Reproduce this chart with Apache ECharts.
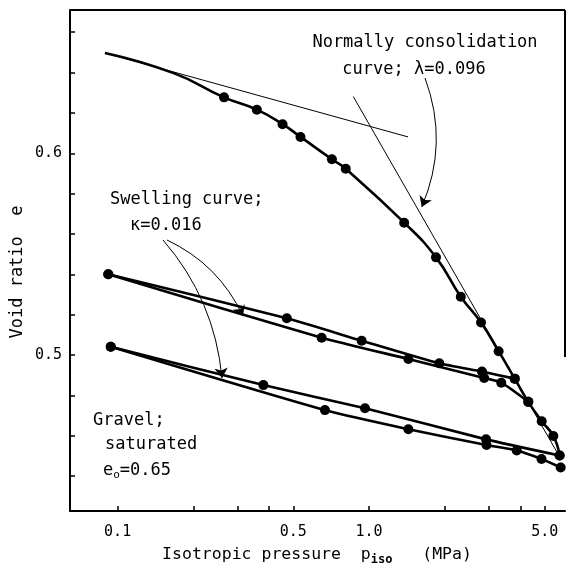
<!DOCTYPE html>
<html><head><meta charset="utf-8">
<script src="https://cdn.jsdelivr.net/npm/echarts@6/dist/echarts.min.js"></script>
<style>html,body{margin:0;padding:0;background:#fff}#c{width:570px;height:565px}</style>
</head><body><div id="c"></div>
<script>
// ---- axis ticks / labels ----
const xTickValues = [0.1, 0.2, 0.3, 0.4, 0.5, 1, 2, 3, 4, 5];
const xLabelValues = [0.1, 0.5, 1, 5];
const yTickValues = [0.44, 0.46, 0.48, 0.50, 0.52, 0.54, 0.56, 0.58, 0.60, 0.62, 0.64, 0.66];
const yLabelValues = [0.5, 0.6];

// ---- normally consolidation curve ----
const ncLead = [[0.089, 0.6497], [0.167, 0.6397]];          // drawn curve, no measured points
const ncPoints = [[0.265, 0.6277], [0.358, 0.6216], [0.453, 0.6144], [0.534, 0.6081],
  [0.712, 0.5970], [0.808, 0.5923], [1.380, 0.5656], [1.847, 0.5484], [2.318, 0.5289],
  [2.790, 0.5161], [3.278, 0.5019], [3.799, 0.4883], [4.302, 0.4768], [4.864, 0.4672],
  [5.409, 0.4599], [5.731, 0.4502]];

// ---- swelling loops ----
const unload1 = [[3.799, 0.4883], [2.815, 0.4918], [1.904, 0.4959], [0.935, 0.5071], [0.471, 0.5182], [0.0918, 0.5400]];
const reload1 = [[0.0918, 0.5400], [0.648, 0.5086], [1.434, 0.4980], [2.872, 0.4886], [3.359, 0.4863], [4.302, 0.4768]];
const unload2 = [[5.731, 0.4502], [2.921, 0.4582], [0.964, 0.4736], [0.380, 0.4851], [0.0939, 0.5041]];
const reload2 = [[0.0939, 0.5041], [0.668, 0.4727], [1.434, 0.4632], [2.934, 0.4554], [3.869, 0.4527], [4.855, 0.4485], [5.788, 0.4443]];

// ---- straight reference lines ----
const kappaLine = [[0.0891, 0.6497], [1.430, 0.6081]];
const lambdaLine = [[0.866, 0.6281], [5.70, 0.4501]];

// ---- annotation arrows (start, end) ----
const arrowLambda = [[1.670, 0.6373], [1.621, 0.5734]];
const arrowKappaA = [[0.1572, 0.5570], [0.3153, 0.5193]];
const arrowKappaB = [[0.1516, 0.5570], [0.2602, 0.4886]];

const X_MIN = 0.06465, X_MAX = 6.021, Y_MIN = 0.4227, Y_MAX = 0.6710;
const FONT = '"DejaVu Sans Mono", "Liberation Mono", monospace';

const chart = echarts.init(document.getElementById('c'), null, {renderer: 'canvas'});

const thick = {color: '#000', width: 2.6};
const thin = {color: '#000', width: 1};
const mk = (d) => d.map(v => ({value: v}));

const series = [
  {type: 'line', name: 'nc', smooth: 0.5, symbol: 'circle', symbolSize: 10,
   itemStyle: {color: '#000'}, lineStyle: thick,
   data: ncLead.map(v => ({value: v, symbol: 'none'})).concat(mk(ncPoints))},
  {type: 'line', smooth: 0.2, symbol: 'circle', symbolSize: 10, itemStyle: {color: '#000'}, lineStyle: thick, data: unload1},
  {type: 'line', smooth: 0.2, symbol: 'circle', symbolSize: 10, itemStyle: {color: '#000'}, lineStyle: thick, data: reload1},
  {type: 'line', smooth: 0.2, symbol: 'circle', symbolSize: 10, itemStyle: {color: '#000'}, lineStyle: thick, data: unload2},
  {type: 'line', smooth: 0.2, symbol: 'circle', symbolSize: 10, itemStyle: {color: '#000'}, lineStyle: thick, data: reload2},
  {type: 'line', symbol: 'none', lineStyle: thin, data: kappaLine},
  {type: 'line', symbol: 'none', lineStyle: thin, data: lambdaLine},
  {type: 'lines', coordinateSystem: 'cartesian2d', symbol: ['none', 'arrow'], symbolSize: 10,
   lineStyle: {color: '#000', width: 1, opacity: 1}, itemStyle: {color: '#000'},
   data: [
     {coords: arrowLambda, lineStyle: {curveness: 0.2}},
     {coords: arrowKappaA, lineStyle: {curveness: 0.18}},
     {coords: arrowKappaB, lineStyle: {curveness: 0.16}}
   ]}
];

chart.setOption({
  animation: false,
  backgroundColor: '#fff',
  grid: {left: 70, right: 5, top: 10, bottom: 54, show: false},
  xAxis: {
    type: 'log', logBase: 10, min: X_MIN, max: X_MAX,
    axisLine: {show: true, lineStyle: {color: '#000', width: 2}},
    axisTick: {show: true, inside: true, length: 5, customValues: xTickValues, lineStyle: {color: '#000', width: 1.5}},
    axisLabel: {show: true, customValues: xLabelValues, margin: 14, color: '#000',
      fontFamily: FONT, fontSize: 15, formatter: v => Number(v).toFixed(1)},
    splitLine: {show: false}, minorTick: {show: false}
  },
  yAxis: {
    type: 'value', min: Y_MIN, max: Y_MAX,
    axisLine: {show: true, lineStyle: {color: '#000', width: 2}},
    axisTick: {show: true, inside: true, length: 5, customValues: yTickValues, lineStyle: {color: '#000', width: 1.5}},
    axisLabel: {show: true, customValues: yLabelValues, margin: 8, color: '#000',
      fontFamily: FONT, fontSize: 15, formatter: v => Number(v).toFixed(1)},
    splitLine: {show: false}
  },
  series: series
});

const tl = chart.convertToPixel({gridIndex: 0}, [X_MIN, Y_MAX]);
const tr = chart.convertToPixel({gridIndex: 0}, [X_MAX, Y_MAX]);
const rb = chart.convertToPixel({gridIndex: 0}, [X_MAX, 0.499]);

const txt = (x, y, text, extra) => Object.assign({
  type: 'text', x: x, y: y,
  style: Object.assign({text: text, fill: '#000', font: '17px ' + FONT, textAlign: 'left', textVerticalAlign: 'middle'}, extra || {})
});

chart.setOption({
  graphic: [
    {type: 'line', shape: {x1: tl[0], y1: tl[1], x2: tr[0], y2: tr[1]}, style: {stroke: '#000', lineWidth: 2}},
    {type: 'line', shape: {x1: tr[0], y1: tr[1], x2: rb[0], y2: rb[1]}, style: {stroke: '#000', lineWidth: 2}},
    txt(425, 43, 'Normally consolidation', {textAlign: 'center'}),
    txt(414, 70, 'curve; λ=0.096', {textAlign: 'center'}),
    txt(110, 200, 'Swelling curve;'),
    txt(130, 226, 'κ=0.016'),
    txt(93, 421, 'Gravel;'),
    txt(105, 445, 'saturated'),
    {type: 'text', x: 103, y: 471, style: {
      text: '{a|e}{s|o}{a|=0.65}', fill: '#000', textAlign: 'left', textVerticalAlign: 'middle',
      rich: {a: {font: '17px ' + FONT, fill: '#000'}, s: {font: '11px ' + FONT, fill: '#000', padding: [9, 0, 0, 0]}}
    }},
    {type: 'text', x: 18, y: 272, rotation: Math.PI / 2, style: {
      text: 'Void ratio  e', fill: '#000', font: '17px ' + FONT, textAlign: 'center', textVerticalAlign: 'middle'}},
    {type: 'text', x: 317, y: 555, style: {
      text: '{a|Isotropic pressure  }{a|p}{s|iso}{a|   (MPa)}', fill: '#000', textAlign: 'center', textVerticalAlign: 'middle',
      rich: {a: {font: '16.5px ' + FONT, fill: '#000'}, s: {font: 'bold 12px ' + FONT, fill: '#000', padding: [9, 0, 0, 0]}}
    }}
  ]
});
</script>
</body></html>
